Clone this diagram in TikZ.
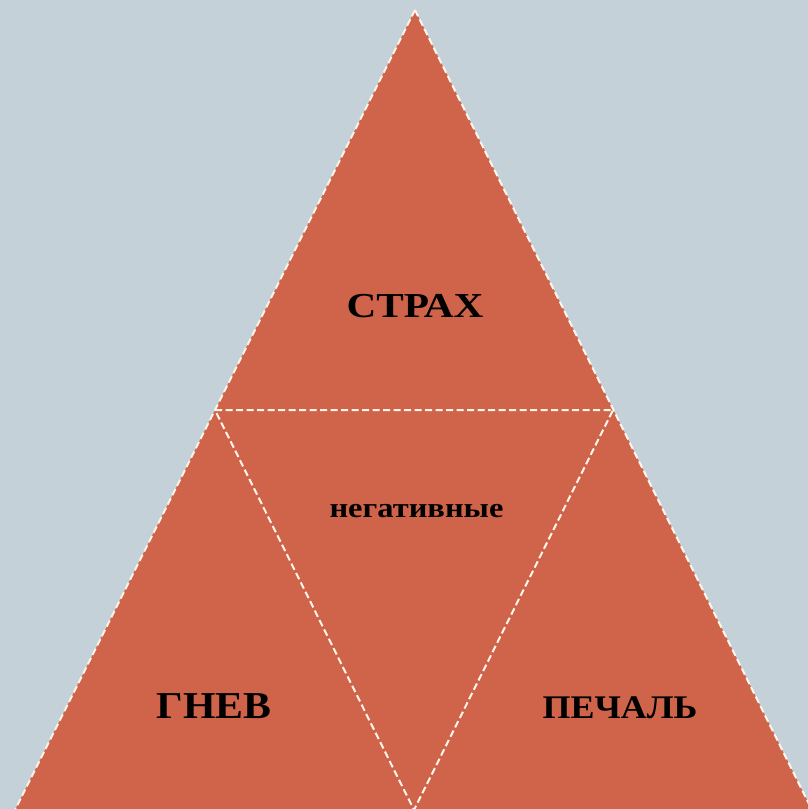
\documentclass[tikz,border=0pt]{standalone}
\usepackage{fontspec}
\setmainfont{Liberation Serif}
\definecolor{bgblue}{HTML}{C5D1D8}
\definecolor{terracotta}{HTML}{D0644A}
\begin{document}
\begin{tikzpicture}[x=1pt,y=-1pt,
  seam/.style={draw=white!92!orange, line width=2pt, dash pattern=on 7pt off 3.5pt},
  label/.style={text=black, inner sep=0pt}]
  % canvas
  \fill[bgblue] (0,0) rectangle (808,809);
  \useasboundingbox (0,0) rectangle (808,809);
  % corners of the big triangle and midpoints of its sides
  \coordinate (top) at (415,10);
  \coordinate (bl) at (15,810);
  \coordinate (br) at (812,810);
  \coordinate (ml) at (215,410);
  \coordinate (mr) at (613,410);
  \coordinate (mb) at (414,810);
  \begin{scope}
    \clip (0,0) rectangle (808,809);
    \fill[terracotta] (top) -- (bl) -- (br) -- cycle;
    \draw[seam] (top) -- (bl);
    \draw[seam] (top) -- (br);
    \draw[seam] (ml) -- (mr) -- (mb) -- cycle;
  \end{scope}
  % labels
  \node[label, xscale=1.18, font=\fontsize{35}{40}\selectfont\bfseries] (fear) at (415,306.5) {СТРАХ};
  \node[label, xscale=1.16, font=\fontsize{28}{32}\selectfont\bfseries] (neg) at (416.5,511.5) {негативные};
  \node[label, xscale=1.1, font=\fontsize{38}{42}\selectfont\bfseries] (anger) at (214,706) {ГНЕВ};
  \node[label, xscale=1.09, font=\fontsize{33}{37}\selectfont\bfseries] (sad) at (620,708) {ПЕЧАЛЬ};
\end{tikzpicture}
\end{document}
